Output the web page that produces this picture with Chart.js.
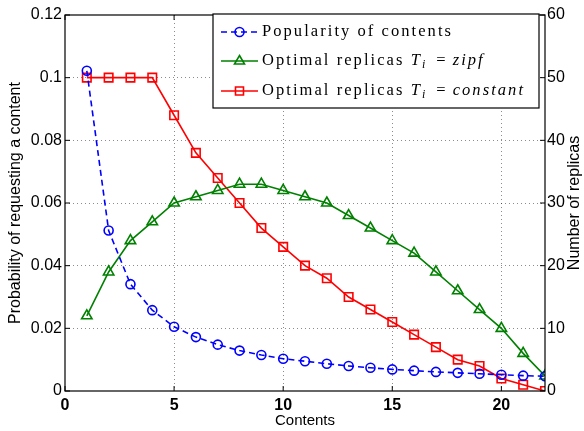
<!DOCTYPE html>
<html>
<head>
<meta charset="utf-8">
<script src="https://cdn.jsdelivr.net/npm/chart.js@4.4.1/dist/chart.umd.min.js"></script>
<style>
  html, body { margin: 0; padding: 0; background: #fff; }
  #wrap { width: 584px; height: 431px; }
</style>
</head>
<body>
<div id="wrap"><canvas id="replicaChart" width="584" height="431"></canvas></div>
<script>
// values
const contents = [1, 2, 3, 4, 5, 6, 7, 8, 9, 10, 11, 12, 13, 14, 15, 16, 17, 18, 19, 20, 21, 22];
const popularity = [0.1022, 0.0512, 0.0341, 0.0258, 0.0205, 0.0172, 0.0148, 0.0129, 0.0115, 0.0103,
  0.0095, 0.0087, 0.0080, 0.0074, 0.0069, 0.0065, 0.0061, 0.0058, 0.0055, 0.0052, 0.0049, 0.0047];
const replicasZipf = [12, 19, 24, 27, 30, 31, 32, 33, 33, 32, 31, 30, 28, 26, 24, 22, 19, 16, 13, 10, 6, 2.4];
const replicasConst = [50, 50, 50, 50, 44, 38, 34, 30, 26, 23, 20, 18, 15, 13, 11, 9, 7, 5, 4, 2, 1, 0];
const xTicks = [0, 5, 10, 15, 20];
const legendLabels = ["Popularity of contents", "Optimal replicas", "Optimal replicas"];
const rightTitle = "Number of replicas";

const toXY = (vals) => vals.map((v, i) => ({ x: contents[i], y: v }));

const sans = "'Liberation Sans', Arial, sans-serif";
const tickFont = { family: sans, size: 16 };
const titleFont = { family: sans, size: 16 };
const gridDots = "rgba(0,0,0,0.45)";

// box, inner ticks, right title and legend, the matlab way
const framePlugin = {
  id: "frame",
  afterDraw(chart) {
    const { ctx, chartArea: a, scales } = chart;
    ctx.save();
    ctx.strokeStyle = "#000";
    ctx.lineWidth = 1.2;
    ctx.strokeRect(a.left, a.top, a.right - a.left, a.bottom - a.top);

    // little inward ticks
    ctx.lineWidth = 1;
    ctx.beginPath();
    xTicks.forEach((v) => {
      const px = scales.x.getPixelForValue(v);
      ctx.moveTo(px, a.bottom); ctx.lineTo(px, a.bottom - 5);
      ctx.moveTo(px, a.top); ctx.lineTo(px, a.top + 5);
    });
    scales.y.ticks.forEach((t) => {
      const py = scales.y.getPixelForValue(t.value);
      ctx.moveTo(a.left, py); ctx.lineTo(a.left + 5, py);
    });
    scales.y1.ticks.forEach((t) => {
      const py = scales.y1.getPixelForValue(t.value);
      ctx.moveTo(a.right, py); ctx.lineTo(a.right - 5, py);
    });
    ctx.stroke();

    // right axis title reads bottom to top like the left one
    ctx.save();
    ctx.translate(575, (a.top + a.bottom) / 2);
    ctx.rotate(-Math.PI / 2);
    ctx.font = titleFont.size + "px " + sans;
    ctx.fillStyle = "#000";
    ctx.textAlign = "center";
    ctx.textBaseline = "middle";
    ctx.fillText(rightTitle, 0, 0);
    ctx.restore();

    // legend box
    const bx = 213, by = 14, bw = 326, bh = 94;
    ctx.fillStyle = "#fff";
    ctx.fillRect(bx, by, bw, bh);
    ctx.lineWidth = 1.2;
    ctx.strokeStyle = "#000";
    ctx.strokeRect(bx, by, bw, bh);

    const rows = [32, 61, 91];
    const colors = ["#0000ff", "#008000", "#ff0000"];
    rows.forEach((ry, i) => {
      ctx.strokeStyle = colors[i];
      ctx.lineWidth = 1.6;
      ctx.setLineDash(i === 0 ? [6, 4] : []);
      ctx.beginPath();
      ctx.moveTo(221, ry); ctx.lineTo(258, ry);
      ctx.stroke();
      ctx.setLineDash([]);
      const cx = 239.5;
      ctx.beginPath();
      if (i === 0) {
        ctx.arc(cx, ry, 4.5, 0, Math.PI * 2);
      } else if (i === 1) {
        ctx.moveTo(cx, ry - 5.5);
        ctx.lineTo(cx + 5, ry + 3);
        ctx.lineTo(cx - 5, ry + 3);
        ctx.closePath();
      } else {
        ctx.rect(cx - 4, ry - 4, 8, 8);
      }
      ctx.stroke();
    });

    // legend text (serif, math parts in italic), spaced out like computer modern
    const serif = "'Liberation Serif', 'DejaVu Serif', serif";
    const fs = 16.5;
    ctx.fillStyle = "#000";
    ctx.textBaseline = "middle";
    ctx.font = fs + "px " + serif;
    ctx.letterSpacing = "0px";
    const natural = ctx.measureText(legendLabels[0]).width;
    const spacing = Math.max(0, (191 - natural) / legendLabels[0].length);
    ctx.letterSpacing = spacing.toFixed(2) + "px";
    const reg = fs + "px " + serif, ital = "italic " + fs + "px " + serif, sub = "italic 12px " + serif;
    // [text, font, dy, extra gap after]
    const runs = [
      [[legendLabels[0], reg, 0, 0]],
      [[legendLabels[1] + " ", reg, 0, 0], ["T", ital, 0, 0], ["i", sub, 4, 3], ["=", reg, 0, 5], ["zipf", ital, 0, 0]],
      [[legendLabels[2] + " ", reg, 0, 0], ["T", ital, 0, 0], ["i", sub, 4, 3], ["=", reg, 0, 5], ["constant", ital, 0, 0]],
    ];
    runs.forEach((parts, i) => {
      let tx = 262;
      parts.forEach(([txt, font, dy, gap], k) => {
        ctx.font = font;
        if (txt === "=") tx += 6;
        ctx.fillText(txt, tx, rows[i] + dy);
        tx += ctx.measureText(txt).width + gap;
      });
    });
    ctx.restore();
  },
};

const ctx = document.getElementById("replicaChart").getContext("2d");
new Chart(ctx, {
  type: "line",
  data: {
    datasets: [
      {
        label: legendLabels[0],
        data: toXY(popularity),
        yAxisID: "y",
        borderColor: "#0000ff",
        borderWidth: 1.6,
        borderDash: [6, 4],
        pointStyle: "circle",
        pointRadius: 4.5,
        pointBorderWidth: 1.6,
        pointBackgroundColor: "rgba(0,0,0,0)",
        pointBorderColor: "#0000ff",
      },
      {
        label: legendLabels[1],
        data: toXY(replicasZipf),
        yAxisID: "y1",
        borderColor: "#008000",
        borderWidth: 1.6,
        pointStyle: "triangle",
        pointRadius: 6,
        pointBorderWidth: 1.6,
        pointBackgroundColor: "rgba(0,0,0,0)",
        pointBorderColor: "#008000",
      },
      {
        label: legendLabels[2],
        data: toXY(replicasConst),
        yAxisID: "y1",
        borderColor: "#ff0000",
        borderWidth: 1.6,
        pointStyle: "rect",
        pointRadius: 6,
        pointBorderWidth: 1.6,
        pointBackgroundColor: "rgba(0,0,0,0)",
        pointBorderColor: "#ff0000",
      },
    ],
  },
  options: {
    responsive: false,
    animation: false,
    layout: { padding: { top: 15, left: 0, right: 0, bottom: 0 } },
    plugins: { legend: { display: false }, tooltip: { enabled: false } },
    scales: {
      x: {
        type: "linear",
        min: 0,
        max: 22,
        afterBuildTicks: (scale) => { scale.ticks = xTicks.map((v) => ({ value: v })); },
        afterFit: (scale) => { scale.height = 40; },
        grid: {
          drawTicks: false,
          color: (c) => (c.tick && (c.tick.value === 0 || c.tick.value === 22) ? "rgba(0,0,0,0)" : gridDots),
        },
        border: { display: false, dash: [1, 3] },
        ticks: { color: "#000", font: { ...tickFont, weight: "bold" }, padding: 5, maxRotation: 0 },
        title: { display: true, text: "Contents", color: "#000", font: { family: sans, size: 15 }, padding: { top: 0, bottom: 1 } },
      },
      y: {
        position: "left",
        min: 0,
        max: 0.12,
        afterFit: (scale) => { scale.width = 65; },
        grid: {
          drawTicks: false,
          color: (c) => (c.tick && (c.tick.value === 0 || c.tick.value >= 0.119) ? "rgba(0,0,0,0)" : gridDots),
        },
        border: { display: false, dash: [1, 3] },
        ticks: {
          stepSize: 0.02,
          color: "#000",
          font: tickFont,
          padding: 3,
          callback: (v) => String(+v.toFixed(2)),
        },
        title: { display: true, text: "Probability of requesting a content", color: "#000", font: titleFont, padding: { top: 6, bottom: 0 } },
      },
      y1: {
        position: "right",
        min: 0,
        max: 60,
        afterFit: (scale) => { scale.width = 39; },
        grid: { display: false, drawTicks: false },
        border: { display: false },
        ticks: { stepSize: 10, color: "#000", font: tickFont, padding: 2 },
      },
    },
  },
  plugins: [framePlugin],
});
</script>
</body>
</html>
